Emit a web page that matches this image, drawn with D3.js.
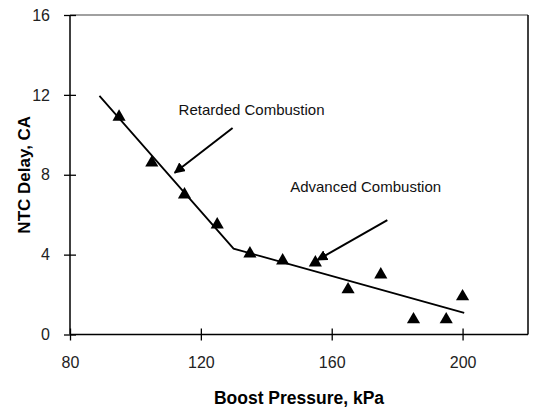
<!DOCTYPE html>
<html>
<head>
<meta charset="utf-8">
<script src="https://cdn.jsdelivr.net/npm/d3@7"></script>
<style>
  html, body { margin: 0; padding: 0; background: #fff; }
  svg { display: block; }
</style>
</head>
<body>
<svg id="chart" width="536" height="408"></svg>
<script>
// Boost pressure (kPa) and measured NTC delay (crank angle)
const boostPressure = [95, 105, 115, 125, 135, 145, 155, 165, 175, 185, 195, 200];
const ntcDelay      = [10.9, 8.6, 7.0, 5.5, 4.05, 3.7, 3.6, 2.25, 3.0, 0.75, 0.75, 1.9];

// Two-segment trend line (retarded / advanced combustion regimes)
const trendX = [89, 130, 200.5];
const trendY = [11.95, 4.3, 1.08];

const xTicks = [80, 120, 160, 200];
const yTicks = [0, 4, 8, 12, 16];

// Annotations: label text, label anchor, arrow start and tip (data units)
const noteText  = ["Retarded Combustion", "Advanced Combustion"];
const noteLabel = [[113.2, 11.0], [147.3, 7.13]];
const noteFrom  = [[129.7, 10.34], [177, 5.73]];
const noteTo    = [[112, 8.1], [155.6, 3.73]];

const svg = d3.select("#chart");
const x = d3.scaleLinear().domain([80, 220]).range([70, 528]);
const y = d3.scaleLinear().domain([0, 16]).range([334.5, 15]);

const defs = svg.append("defs");
defs.append("marker")
  .attr("id", "head")
  .attr("viewBox", "0 0 10 10")
  .attr("refX", 9).attr("refY", 5)
  .attr("markerWidth", 5.5).attr("markerHeight", 5.5)
  .attr("markerUnits", "strokeWidth")
  .attr("orient", "auto")
  .append("path").attr("d", "M0,0 L10,5 L0,10 Z").attr("fill", "#000");

// Frame: grey top edge, black right edge
svg.append("line")
  .attr("x1", x(80)).attr("x2", x(220)).attr("y1", y(16)).attr("y2", y(16))
  .attr("stroke", "#808080").attr("stroke-width", 1.5);
svg.append("line")
  .attr("x1", x(220)).attr("x2", x(220)).attr("y1", y(16)).attr("y2", y(0))
  .attr("stroke", "#000").attr("stroke-width", 1.5);

// Axes with ticks crossing the axis line
const xAxis = svg.append("g")
  .attr("transform", `translate(0,${y(0)})`)
  .call(d3.axisBottom(x).tickValues(xTicks).tickSize(6).tickPadding(16).tickFormat(d3.format("d")));
xAxis.select(".domain").attr("d", `M${x(80)},0H${x(220)}`).attr("stroke-width", 1.5);
xAxis.selectAll(".tick line").attr("y1", -6).attr("y2", 6).attr("stroke-width", 1.3);
xAxis.selectAll(".tick text")
  .attr("font-family", "'Liberation Sans', Arial, sans-serif")
  .attr("font-size", 16).attr("fill", "#222");

const yAxis = svg.append("g")
  .attr("transform", `translate(${x(80)},0)`)
  .call(d3.axisLeft(y).tickValues(yTicks).tickSize(6).tickPadding(14).tickFormat(d3.format("d")));
yAxis.select(".domain").attr("d", `M0,${y(16)}V${y(0)}`).attr("stroke-width", 1.5);
yAxis.selectAll(".tick line").attr("x1", -6).attr("x2", 6).attr("stroke-width", 1.3);
yAxis.selectAll(".tick text")
  .attr("font-family", "'Liberation Sans', Arial, sans-serif")
  .attr("font-size", 16).attr("fill", "#222");

// Axis titles
svg.append("text")
  .attr("x", (x(80) + x(220)) / 2).attr("y", 404)
  .attr("text-anchor", "middle")
  .attr("font-family", "'Liberation Sans', Arial, sans-serif")
  .attr("font-weight", "bold").attr("font-size", 17.5)
  .text("Boost Pressure, kPa");
svg.append("text")
  .attr("transform", `translate(30,${(y(0) + y(16)) / 2}) rotate(-90)`)
  .attr("text-anchor", "middle")
  .attr("font-family", "'Liberation Sans', Arial, sans-serif")
  .attr("font-weight", "bold").attr("font-size", 17)
  .text("NTC Delay, CA");

// Trend line
const trend = trendX.map((d, i) => [d, trendY[i]]);
svg.append("path")
  .datum(trend)
  .attr("fill", "none").attr("stroke", "#000").attr("stroke-width", 1.8)
  .attr("d", d3.line().x(d => x(d[0])).y(d => y(d[1])));

// Data points as filled triangles
const tri = d3.symbol().type(d3.symbolTriangle).size(75);
svg.append("g").selectAll("path")
  .data(boostPressure.map((d, i) => [d, ntcDelay[i]]))
  .join("path")
  .attr("transform", d => `translate(${x(d[0])},${y(d[1])})`)
  .attr("d", tri)
  .attr("fill", "#000");

// Annotations
noteText.forEach((t, i) => {
  svg.append("text")
    .attr("x", x(noteLabel[i][0])).attr("y", y(noteLabel[i][1]))
    .attr("font-family", "'Liberation Sans', Arial, sans-serif")
    .attr("font-size", 15).attr("fill", "#111")
    .text(t);
  svg.append("line")
    .attr("x1", x(noteFrom[i][0])).attr("y1", y(noteFrom[i][1]))
    .attr("x2", x(noteTo[i][0])).attr("y2", y(noteTo[i][1]))
    .attr("stroke", "#000").attr("stroke-width", 2)
    .attr("marker-end", "url(#head)");
});
</script>
</body>
</html>
